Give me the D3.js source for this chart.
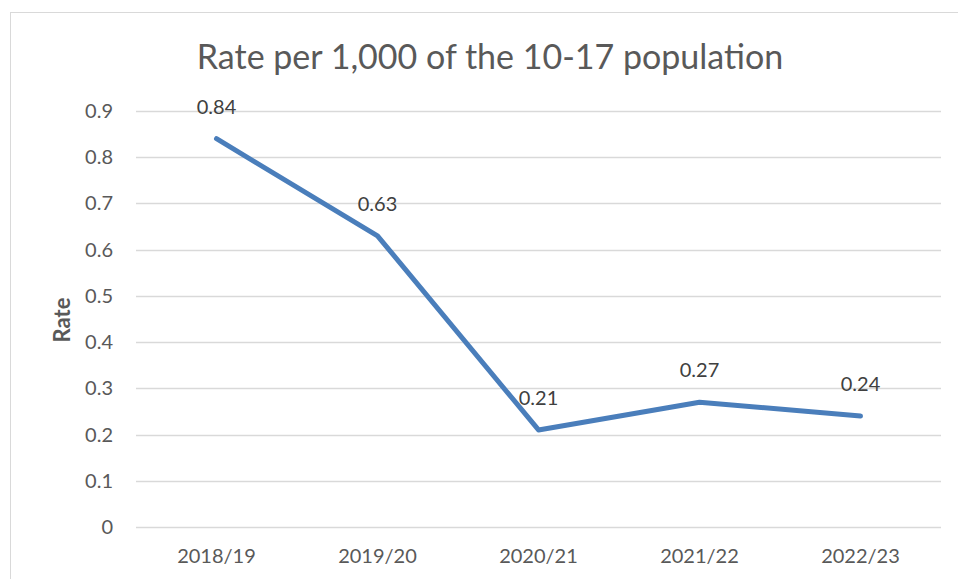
<!DOCTYPE html>
<html>
<head>
<meta charset="utf-8">
<script src="https://d3js.org/d3.v7.min.js"></script>
<style>
  body { margin: 0; background: #fff; }
  svg { display: block; font-family: Lato, "Open Sans", sans-serif; }
</style>
</head>
<body>
<svg id="chart" width="958" height="579"></svg>
<script>
// chart data
var years = ["2018/19", "2019/20", "2020/21", "2021/22", "2022/23"];
var rates = [0.84, 0.63, 0.21, 0.27, 0.24];
var yTicks = [0, 0.1, 0.2, 0.3, 0.4, 0.5, 0.6, 0.7, 0.8, 0.9];
var title = "Rate per 1,000 of the 10-17 population";
var yTitle = "Rate";

var svg = d3.select("#chart");
var plotLeft = 136, plotRight = 941, plotTop = 111, plotBottom = 527;

// outer chart border
svg.append("rect")
  .attr("x", 10.5).attr("y", 12.5)
  .attr("width", 960).attr("height", 600)
  .attr("fill", "none").attr("stroke", "#d9d9d9");

var xScale = d3.scalePoint().domain(years).range([plotLeft, plotRight]).padding(0.5);
var yScale = d3.scaleLinear().domain([0, 0.9]).range([plotBottom, plotTop]);

// gridlines
svg.append("g")
  .selectAll("line")
  .data(yTicks)
  .enter()
  .append("line")
  .attr("x1", plotLeft).attr("x2", plotRight)
  .attr("y1", d => Math.round(yScale(d)) + 0.5)
  .attr("y2", d => Math.round(yScale(d)) + 0.5)
  .style("stroke", "#d9d9d9")
  .style("stroke-width", 1.5);

// y tick labels
svg.append("g")
  .selectAll("text")
  .data(yTicks)
  .enter()
  .append("text")
  .attr("x", 113)
  .attr("y", d => yScale(d))
  .attr("dy", "0.35em")
  .attr("text-anchor", "end")
  .style("font-size", "20px")
  .style("fill", "#595959")
  .text(d => d3.format("")(+d.toFixed(1)));

// x tick labels
svg.append("g")
  .selectAll("text")
  .data(years)
  .enter()
  .append("text")
  .attr("x", d => xScale(d))
  .attr("y", 556)
  .attr("dy", "0.35em")
  .attr("text-anchor", "middle")
  .style("font-size", "20px")
  .style("fill", "#595959")
  .text(d => d);

// line
var line = d3.line()
  .x((d, i) => xScale(years[i]))
  .y(d => yScale(d));

svg.append("path")
  .datum(rates)
  .attr("d", line)
  .attr("fill", "none")
  .attr("stroke", "#4a7ebb")
  .attr("stroke-width", 5)
  .attr("stroke-linejoin", "round")
  .attr("stroke-linecap", "round");

// data labels
svg.append("g")
  .selectAll("text")
  .data(rates)
  .enter()
  .append("text")
  .attr("x", (d, i) => xScale(years[i]))
  .attr("y", d => yScale(d) - 32)
  .attr("dy", "0.35em")
  .attr("text-anchor", "middle")
  .style("font-size", "20px")
  .style("fill", "#404040")
  .text(d => d.toFixed(2));

// title
svg.append("text")
  .attr("x", 490).attr("y", 57)
  .attr("dy", "0.35em")
  .attr("text-anchor", "middle")
  .style("font-size", "34px")
  .style("fill", "#595959")
  .text(title);

// y axis title
svg.append("text")
  .attr("transform", "translate(62,320) rotate(-90)")
  .attr("dy", "0.35em")
  .attr("text-anchor", "middle")
  .style("font-size", "22px")
  .style("font-weight", "bold")
  .style("fill", "#595959")
  .text(yTitle);
</script>
</body>
</html>
